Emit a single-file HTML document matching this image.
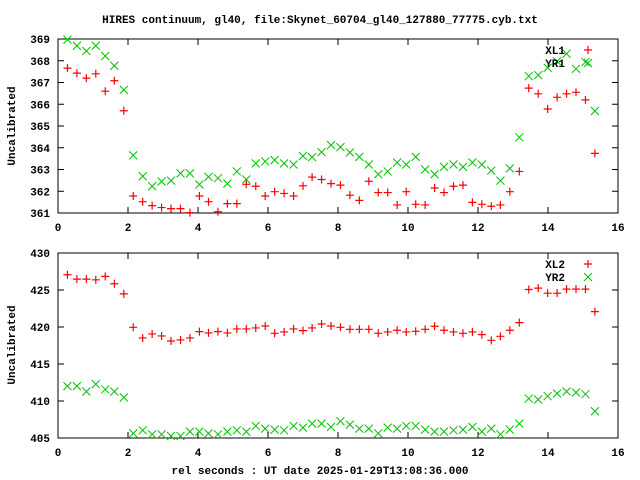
<!DOCTYPE html>
<html><head><meta charset="utf-8"><style>
html,body{margin:0;padding:0;background:#fff;}
svg{display:block;font-family:"Liberation Mono",monospace;font-size:11px;font-weight:bold;}
</style></head><body>
<svg id="chart" width="640" height="480" viewBox="0 0 640 480">
<text x="320" y="23" text-anchor="middle">HIRES continuum, gl40, file:Skynet_60704_gl40_127880_77775.cyb.txt</text>
<text x="320" y="474" text-anchor="middle">rel seconds : UT date 2025-01-29T13:08:36.000</text>
<text transform="translate(15,126) rotate(-90)" text-anchor="middle">Uncalibrated</text>
<text transform="translate(15,345) rotate(-90)" text-anchor="middle">Uncalibrated</text>
</svg>
<script>
const times=[0.27,0.54,0.81,1.08,1.35,1.61,1.88,2.15,2.42,2.69,2.96,3.23,3.50,3.77,4.04,4.30,4.57,4.84,5.11,5.38,5.65,5.92,6.19,6.46,6.73,7.00,7.26,7.53,7.80,8.07,8.34,8.61,8.88,9.15,9.42,9.69,9.95,10.22,10.49,10.76,11.03,11.30,11.57,11.84,12.11,12.38,12.64,12.91,13.18,13.45,13.72,13.99,14.26,14.53,14.80,15.07,15.34];
const xl1=[367.66,367.43,367.2,367.4,366.6,367.08,365.7,361.78,361.52,361.34,361.25,361.2,361.2,361.02,361.78,361.52,361.06,361.43,361.43,362.32,362.23,361.78,361.98,361.9,361.78,362.25,362.65,362.54,362.35,362.28,361.82,361.58,362.46,361.94,361.94,361.37,361.98,361.4,361.37,362.15,361.94,362.23,362.28,361.49,361.4,361.31,361.37,361.98,362.91,366.74,366.48,365.78,366.32,366.48,366.55,366.2,363.74];
const yr1=[368.97,368.69,368.45,368.69,368.22,367.77,366.66,363.65,362.69,362.23,362.45,362.49,362.82,362.82,362.31,362.66,362.6,362.35,362.91,362.54,363.28,363.37,363.43,363.28,363.23,363.62,363.57,363.8,364.12,364.03,363.78,363.58,363.23,362.78,362.91,363.32,363.23,363.58,363.0,362.78,363.12,363.23,363.12,363.32,363.23,362.95,362.49,363.05,364.48,367.29,367.34,367.68,367.97,368.32,367.63,367.94,365.69];
const xl2=[427.06,426.47,426.47,426.38,426.84,425.84,424.48,419.96,418.52,419.06,418.79,418.11,418.25,418.52,419.38,419.2,419.38,419.2,419.74,419.74,419.87,420.14,419.15,419.33,419.74,419.51,419.87,420.41,420.14,419.96,419.69,419.69,419.69,419.15,419.33,419.56,419.33,419.42,419.69,420.1,419.56,419.33,419.15,419.33,418.97,418.2,418.74,419.56,420.59,425.07,425.25,424.57,424.57,425.12,425.12,425.12,422.08];
const yr2=[412.01,412.01,411.28,412.28,411.56,411.28,410.47,405.63,406.04,405.5,405.5,405.27,405.27,405.86,405.86,405.63,405.5,405.86,406.04,405.86,406.63,406.27,406.13,406.04,406.63,406.4,406.94,406.94,406.49,407.26,406.81,406.27,406.27,405.63,406.4,406.27,406.63,406.63,406.13,405.86,405.86,406.04,406.13,406.49,405.86,406.27,405.5,406.13,406.94,410.33,410.2,410.65,411.01,411.28,411.15,410.92,408.62];
const xTicks=[0,2,4,6,8,10,12,14,16];
const yTicks1=[361,362,363,364,365,366,367,368,369];
const yTicks2=[405,410,415,420,425,430];

const NS='http://www.w3.org/2000/svg';
const svg=document.getElementById('chart');
function mk(tag,attrs,parent){const e=document.createElementNS(NS,tag);for(const k in attrs)e.setAttribute(k,attrs[k]);(parent||svg).appendChild(e);return e;}

function panel(opt){
  const L=58,R=618,T=opt.top,B=opt.bottom;
  const g=mk('g',{});
  
  
  const xs=v=>L+(v-0)/16*(R-L);
  const ys=v=>B-(v-opt.ymin)/(opt.ymax-opt.ymin)*(B-T);
  xTicks.forEach(t=>{
    const x=xs(t);
    const tk=mk('path',{d:`M${x},${B}v-6M${x},${T}v6`,stroke:'#000','stroke-width':1,fill:'none'},g);
    
    
    const lb=mk('text',{x:x,y:B+18,'text-anchor':'middle'},g);
    
    
    lb.textContent=t;
  });
  opt.yTicks.forEach(t=>{
    const y=ys(t);
    const tk=mk('path',{d:`M${L},${y}h6M${R},${y}h-6`,stroke:'#000','stroke-width':1,fill:'none'},g);
    
    
    const lb=mk('text',{x:L-8,y:y+4,'text-anchor':'end'},g);
    
    
    lb.textContent=t;
  });
  const fr=mk('rect',{x:L,y:T,width:R-L,height:B-T,fill:'none',stroke:'#000','stroke-width':1},g);
  
  
  function plus(x,y,c,p){const e=mk('path',{d:`M${x-4},${y}h8M${x},${y-4}v8`,stroke:c,'stroke-width':1.2,fill:'none'},p);return e;}
  function cross(x,y,c,p){const e=mk('path',{d:`M${x-4},${y-4}l8,8M${x-4},${y+4}l8,-8`,stroke:c,'stroke-width':1,fill:'none'},p);return e;}
  const s1=mk('g',{},g);
  
  
  opt.s1.forEach((v,i)=>{const e=plus(xs(times[i]),ys(v),'#ff0000',s1);
    
    });
  const s2=mk('g',{},g);
  
  
  opt.s2.forEach((v,i)=>{const e=cross(xs(times[i]),ys(v),'#00c000',s2);
    
    });
  // legend
  const lg=mk('g',{},g);
  
  
  [[opt.s1label,'#ff0000',plus],[opt.s2label,'#00c000',cross]].forEach((d,k)=>{
    const y=T+11+k*13;
    const t=mk('text',{x:565,y:y+4,'text-anchor':'end'},lg);
    
    
    t.textContent=d[0];
    const m=d[2](588,y,d[1],lg);
    
    
  });
}
panel({name:'top-panel',top:39,bottom:213,ymin:361,ymax:369,yTicks:yTicks1,s1:xl1,s2:yr1,s1name:'xl1',s2name:'yr1',s1label:'XL1',s2label:'YR1'});
panel({name:'bottom-panel',top:253,bottom:438,ymin:405,ymax:430,yTicks:yTicks2,s1:xl2,s2:yr2,s1name:'xl2',s2name:'yr2',s1label:'XL2',s2label:'YR2'});
</script>
</body></html>
